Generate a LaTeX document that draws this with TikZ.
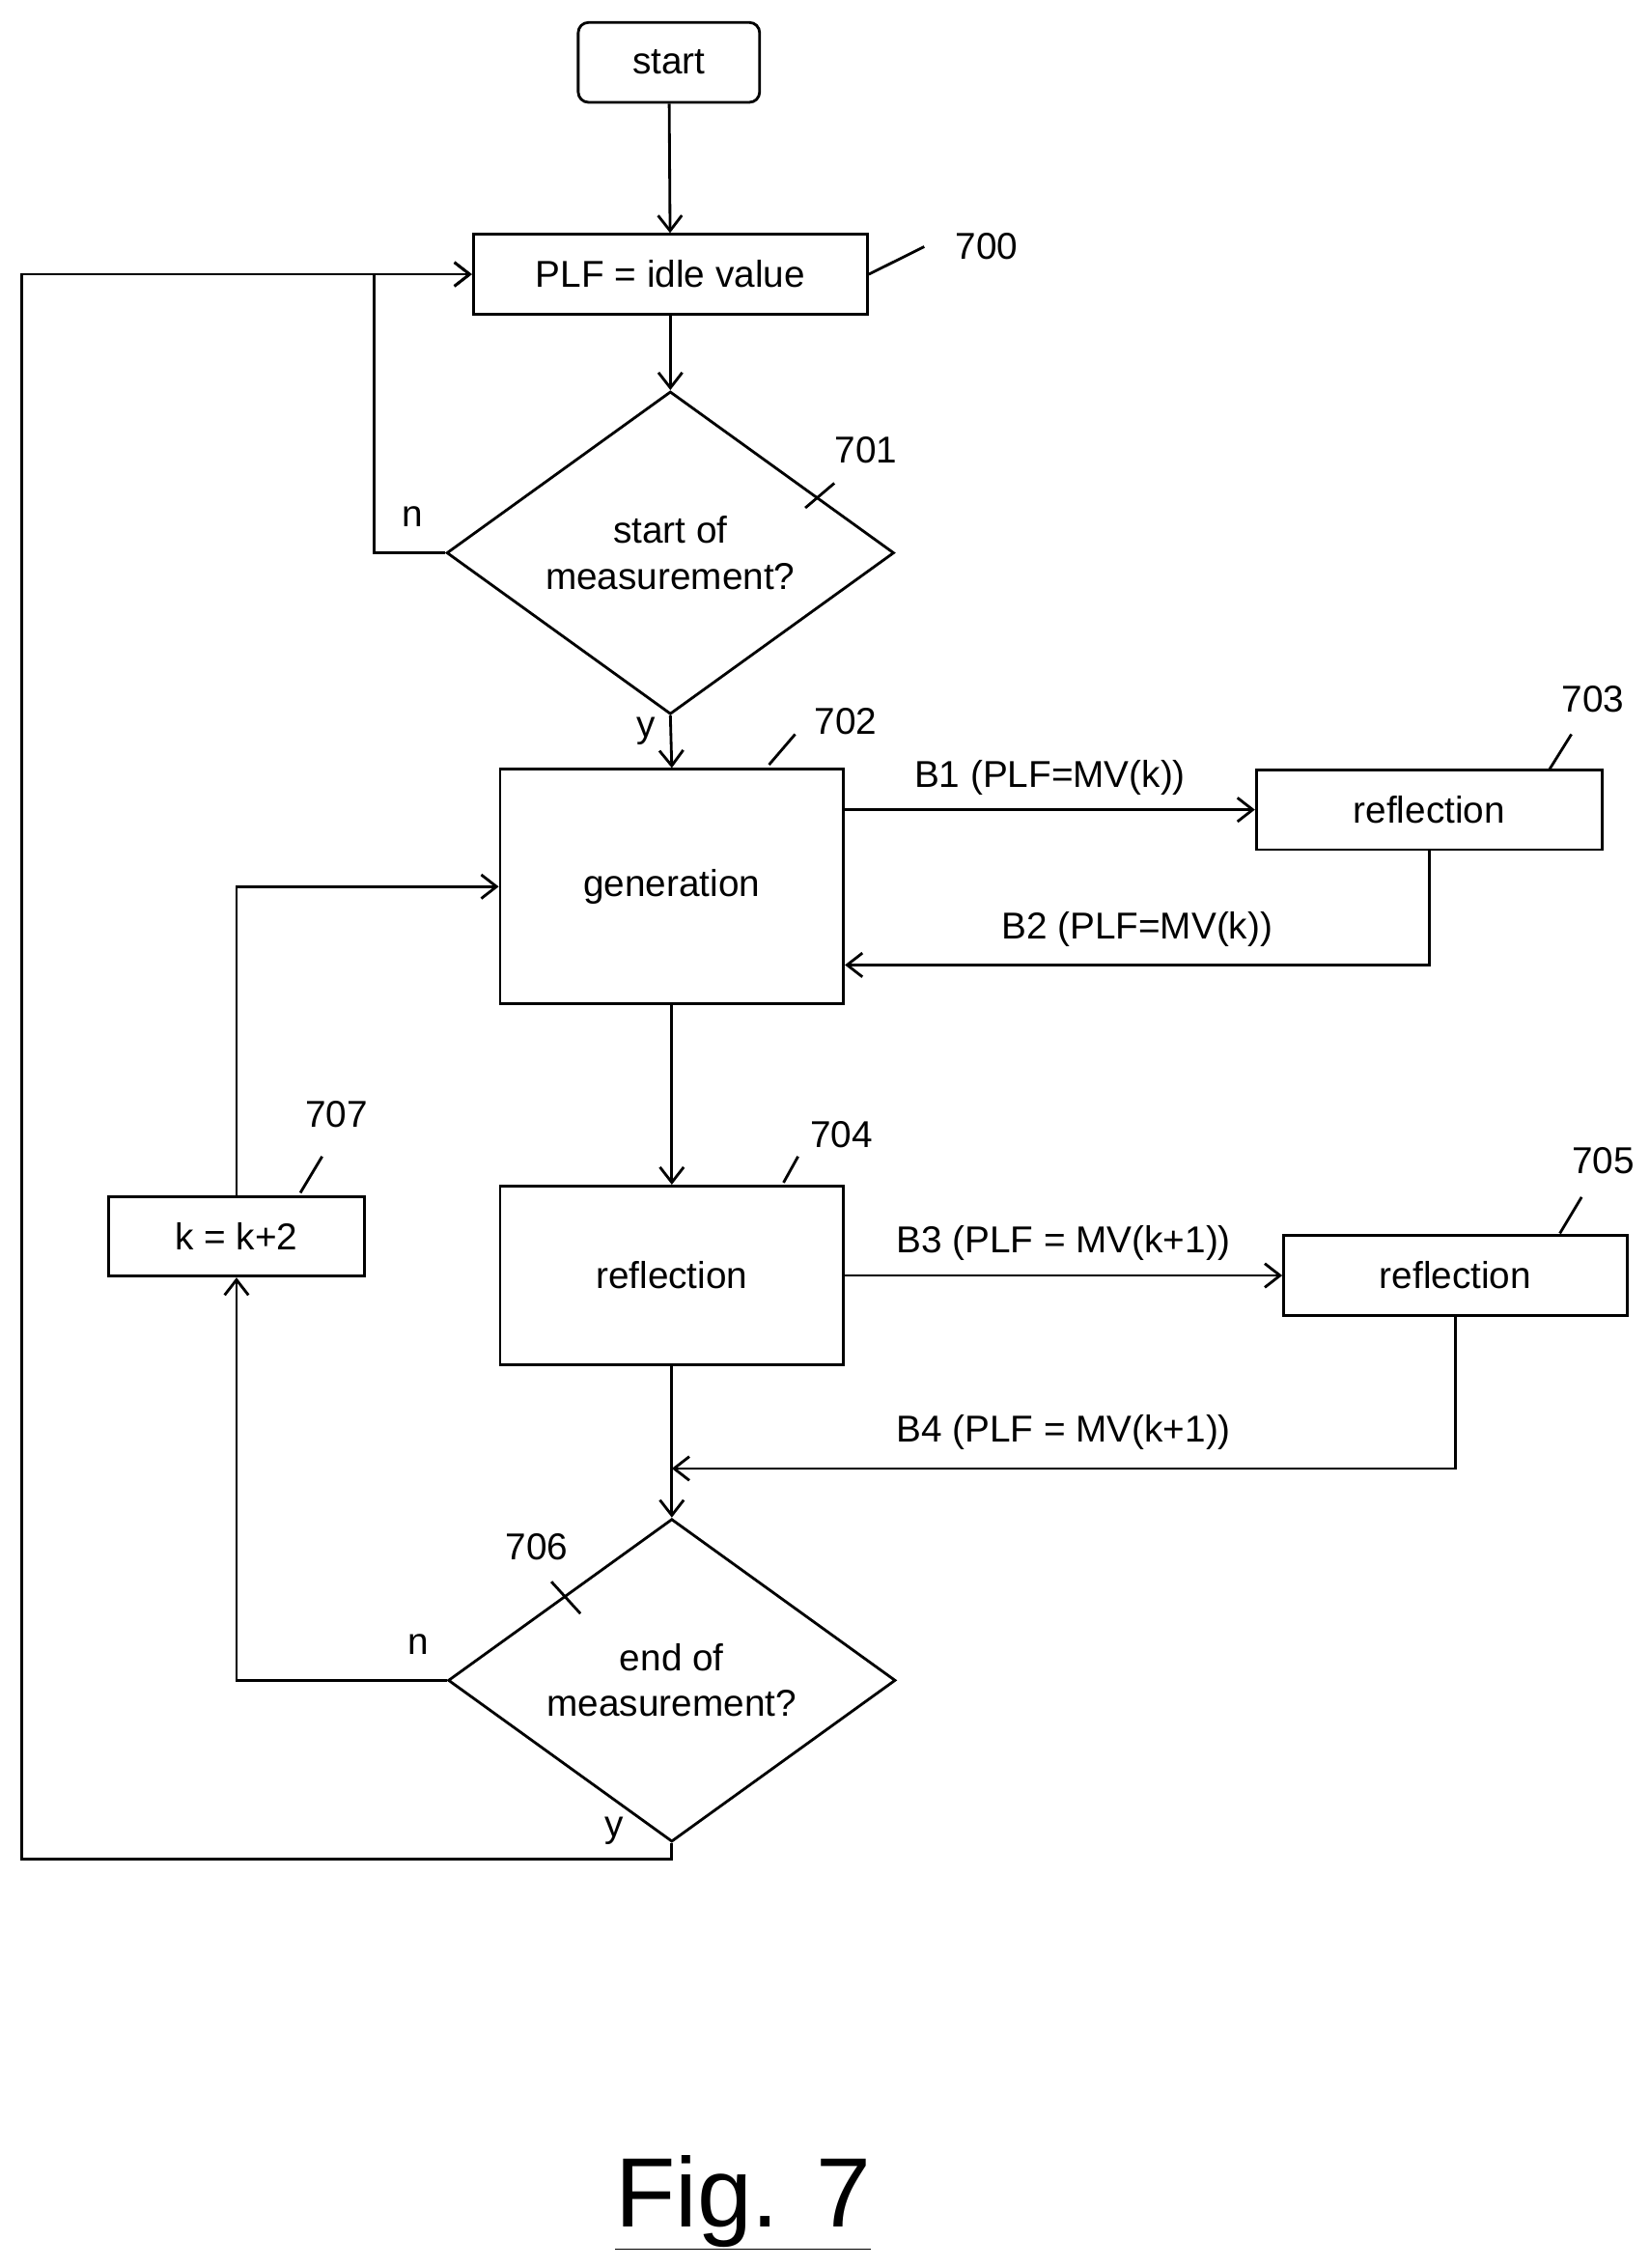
\documentclass[tikz,border=0pt]{standalone}
\usepackage{fontspec}
\setmainfont{Liberation Sans}
\usetikzlibrary{calc, positioning, shapes, arrows.meta}
\tikzset{
    auto,node distance =1.1 cm and 1.1 cm,
    box/.style={draw, line width=1.6pt, minimum height=1.65cm, inner sep=0pt},
    decide/.style={draw, diamond, line width=1.6pt, inner sep=0pt, align=center,
                   minimum width=9.25cm, minimum height=4.45cm},
    txt/.style={inner sep=0pt},
    lead/.style={line width=1.6pt},
    flow/.style={line width=1.6pt, -{Straight Barb[length=9pt,width=14pt,line width=1.6pt]}}
}
\begin{document}
\begin{tikzpicture}[x=0.03cm, y=-0.03cm, font=\fontsize{22}{27}\selectfont]
            \useasboundingbox (0,0) rectangle (1137,1563);
            % boxes
            \node(start) [box,rounded corners=6pt,minimum width=3.75cm] at (461,43) {start};
            \node(idle) [box,minimum width=8.15cm] at (462,189) {PLF = idle value};
            \node(meas) [decide] at (462,381) {start of\\measurement?};
            \node(gen) [box,minimum width=7.1cm,minimum height=4.85cm] at (463,611) {generation};
            \node(refa) [box,minimum width=7.15cm] at (985,558) {reflection};
            \node(refb) [box,minimum width=7.1cm,minimum height=3.7cm] at (463,879) {reflection};
            \node(refc) [box,minimum width=7.1cm] at (1003,879) {reflection};
            \node(stop) [decide] at (463,1158) {end of\\measurement?};
            \node(inc) [box,minimum width=5.3cm] at (163,852) {k = k+2};
            % reference numbers
            \node(n700) [txt] at (680,170) {700};
            \node(n701) [txt] at (597,310) {701};
            \node(n702) [txt] at (583,497) {702};
            \node(n703) [txt] at (1098,482) {703};
            \node(n704) [txt] at (580,782) {704};
            \node(n705) [txt] at (1105,800) {705};
            \node(n706) [txt] at (370,1066) {706};
            \node(n707) [txt] at (232,768) {707};
            \draw[lead] (idle.east) -- (637,170);
            \draw[lead] (555,350) -- (575,333);
            \draw[lead] (530,527) -- (548,506);
            \draw[lead] (1068,530) -- (1083,506);
            \draw[lead] (540,815) -- (550,797);
            \draw[lead] (1075,850) -- (1090,825);
            \draw[lead] (380,1090) -- (400,1112);
            \draw[lead] (207,822) -- (222,797);
            % flow
            \coordinate (back) at (15,1281);
            \draw[flow] (start) -- (idle);
            \draw[flow] (idle) -- (meas);
            \draw[flow] (meas.west) -- (258,381) -- (258,189) -- (idle.west);
            \draw[flow] (meas.south) -- (gen.north) node[pos=0.3,left=8pt,txt] {y};
            \node[txt] at (284,356) {n};
            \draw[flow] (gen.east |- refa) -- node[above=8pt,txt] {B1 (PLF=MV(k))} (refa.west);
            \draw[flow] (refa.south) -- (985,665) -- node[above=10pt,txt] {B2 (PLF=MV(k))} (gen.east |- 0,665);
            \draw[flow] (gen) -- (refb);
            \draw[flow] (refb.east) -- node[above=8pt,txt] {B3 (PLF = MV(k+1))} (refc.west);
            \draw[flow] (refc.south) -- (1003,1012) -- node[above=10pt,txt] {B4 (PLF = MV(k+1))} (463,1012);
            \draw[flow] (refb) -- (stop);
            \draw[flow] (stop.west) -- (163,1158) -- (inc.south);
            \node[txt] at (288,1133) {n};
            \draw[flow] (inc.north) -- (163,611) -- (gen.west);
            \draw[flow] (stop.south) -- (463,1281) -- (back) -- (15,189) -- (idle.west);
            \node[txt] at (423,1262) {y};
            \node(fig) [txt,font=\fontsize{58}{66}\selectfont] at (512,1518) {\underline{Fig. 7}};
\end{tikzpicture}
\end{document}
